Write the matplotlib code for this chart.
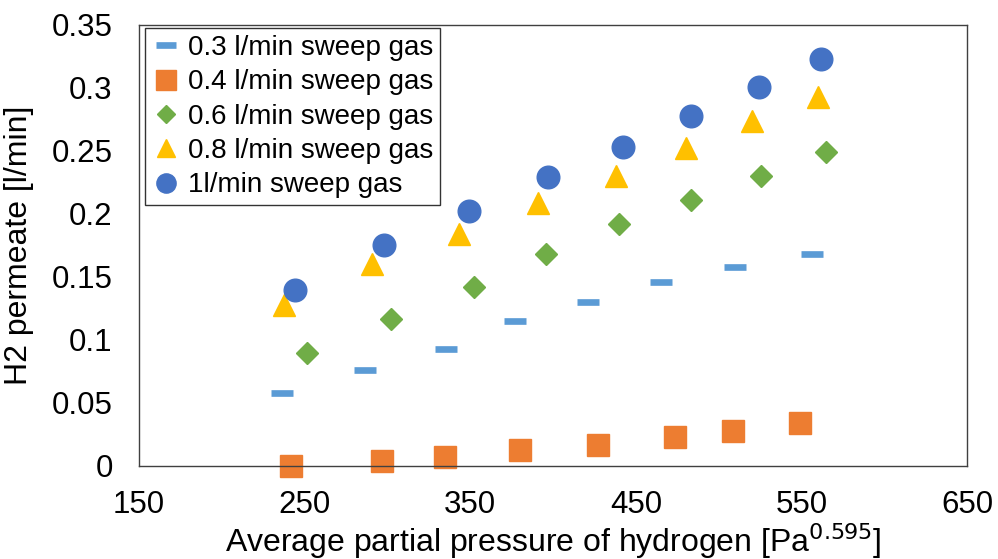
import matplotlib.pyplot as plt

plt.rcParams['font.family'] = ['Liberation Sans', 'DejaVu Sans']

# values
x03 = [236.2, 286.5, 335.4, 376.9, 421.3, 465.4, 510.1, 556.4]
y03 = [0.058, 0.076, 0.093, 0.115, 0.130, 0.146, 0.158, 0.168]
x04 = [241.8, 296.5, 334.6, 380.1, 427.0, 473.5, 508.5, 549.2]
y04 = [0.000, 0.004, 0.007, 0.013, 0.017, 0.023, 0.028, 0.034]
x06 = [251.3, 302.2, 352.1, 395.8, 439.9, 483.5, 525.8, 565.0]
y06 = [0.090, 0.117, 0.142, 0.168, 0.192, 0.211, 0.230, 0.249]
x08 = [237.6, 290.5, 343.2, 391.1, 438.0, 480.3, 520.4, 560.0]
y08 = [0.128, 0.160, 0.184, 0.209, 0.230, 0.252, 0.274, 0.293]
x10 = [244.2, 297.9, 349.3, 397.2, 442.5, 483.1, 524.6, 562.0]
y10 = [0.140, 0.175, 0.202, 0.229, 0.253, 0.278, 0.301, 0.323]

labels = ['0.3 l/min sweep gas', '0.4 l/min sweep gas', '0.6 l/min sweep gas',
          '0.8 l/min sweep gas', '1l/min sweep gas']
xticks = [150, 250, 350, 450, 550, 650]
yticks = [0, 0.05, 0.1, 0.15, 0.2, 0.25, 0.3, 0.35]
yticklabels = ['0', '0.05', '0.1', '0.15', '0.2', '0.25', '0.3', '0.35']

fig = plt.figure(figsize=(9.98, 5.59), dpi=100)
ax = fig.add_axes([0.1393, 0.1664, 0.8297, 0.7889])

ax.plot(x03, y03, ls='none', marker='_', ms=16.3, mew=4.8, color='#5B9BD5', label=labels[0], clip_on=False)
ax.plot(x04, y04, ls='none', marker='s', ms=16.3, color='#ED7D31', label=labels[1], clip_on=False)
ax.plot(x06, y06, ls='none', marker='D', ms=10.8, color='#70AD47', label=labels[2], clip_on=False)
ax.plot(x08, y08, ls='none', marker='^', ms=15.4, color='#FFC000', label=labels[3], clip_on=False)
ax.plot(x10, y10, ls='none', marker='o', ms=16.3, color='#4472C4', label=labels[4], clip_on=False)

ax.set_xlim(150, 650)
ax.set_ylim(0, 0.35)
ax.set_xticks(xticks)
ax.set_yticks(yticks)
ax.set_yticklabels(yticklabels)
ax.tick_params(length=0, labelsize=22.5)
ax.tick_params(axis='y', pad=19)
ax.tick_params(axis='x', pad=17)
for s in ax.spines.values():
    s.set_color('#404040')
    s.set_linewidth(1.0)

ax.set_xlabel('Average partial pressure of hydrogen [Pa$^{0.595}$]', fontsize=23, labelpad=1)
ax.set_ylabel('H2 permeate [l/min]', fontsize=23)
ax.yaxis.set_label_coords(-0.127, 0.5)

leg = fig.legend(loc='upper left', bbox_to_anchor=(0.1453, 0.9499), borderaxespad=0,
                 fontsize=20, markerscale=0.85, handlelength=1.0, handletextpad=0.3,
                 labelspacing=0.3, borderpad=0.25, fancybox=False, frameon=True)
leg.get_frame().set_edgecolor('black')
leg.get_frame().set_linewidth(1.0)

fig.savefig('out.png', dpi=100)
